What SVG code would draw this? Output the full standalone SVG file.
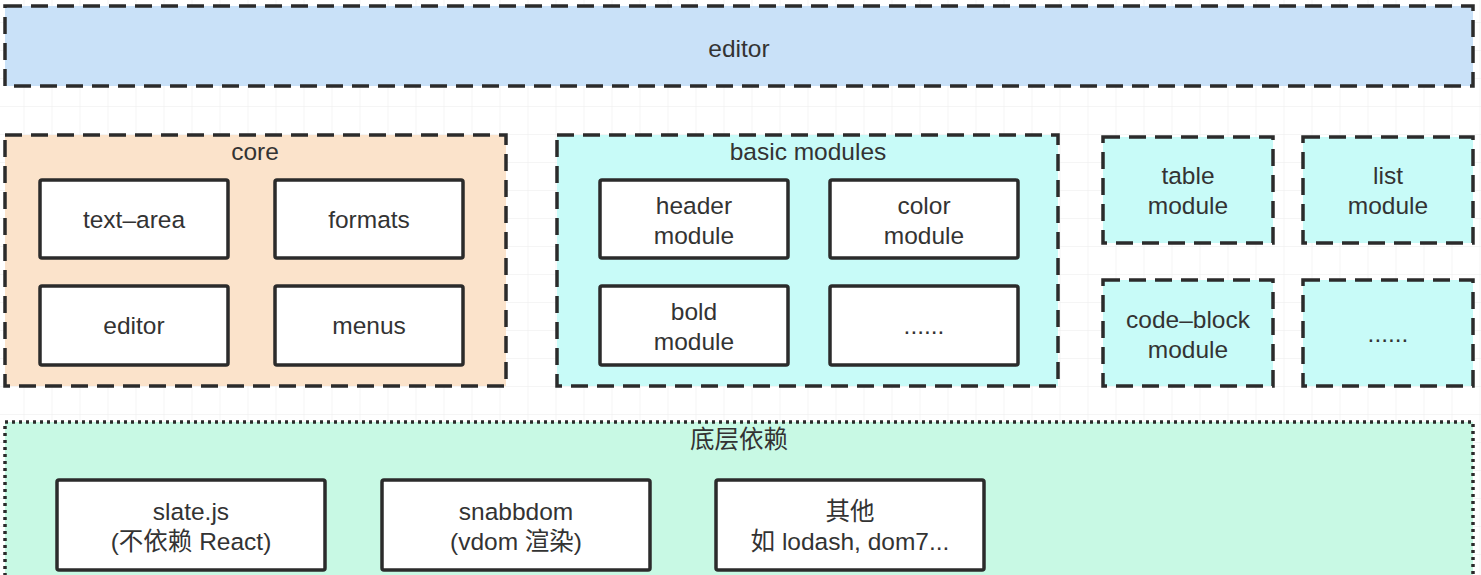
<svg xmlns="http://www.w3.org/2000/svg" width="1481" height="575" viewBox="0 0 1481 575">
<defs>
<pattern id="grid" x="23.5" y="22" width="28" height="28" patternUnits="userSpaceOnUse">
<path d="M0 0H28M0 0V28" fill="none" stroke="#ececec" stroke-width="1"/>
</pattern>
</defs>
<style>
text{font-family:"Liberation Sans","Noto Sans CJK SC",sans-serif;font-size:24.5px;fill:#333;text-anchor:middle}
.dash{stroke:#2b2b2b;stroke-width:3.5;stroke-dasharray:17 9}
.dot{stroke:#2b2b2b;stroke-width:3.5;stroke-dasharray:3 4}
.box{fill:#fff;stroke:#2b2b2b;stroke-width:3.5}
</style>
<rect width="1481" height="575" fill="#fff"/>
<rect width="1481" height="575" fill="url(#grid)"/>
<g id="editor">
<rect class="dash" x="5" y="6" width="1468" height="80" fill="#c9e1f8"/>
<text x="739" y="57">editor</text>
</g>
<g id="core">
<rect class="dash" x="5" y="135" width="501" height="251" fill="#fbe3cb"/>
<text x="255" y="160">core</text>
</g>
<g id="text-area"><rect class="box" x="40" y="180" width="188" height="78" rx="2"/><text x="134" y="228">text–area</text></g>
<g id="formats"><rect class="box" x="275" y="180" width="188" height="78" rx="2"/><text x="369" y="228">formats</text></g>
<g id="editor-core"><rect class="box" x="40" y="286" width="188" height="79" rx="2"/><text x="134" y="334">editor</text></g>
<g id="menus"><rect class="box" x="275" y="286" width="188" height="79" rx="2"/><text x="369" y="334">menus</text></g>
<g id="basic-modules">
<rect class="dash" x="557" y="135" width="501" height="251" fill="#c8fbf8"/>
<text x="808" y="160">basic modules</text>
</g>
<g id="header"><rect class="box" x="600" y="180" width="188" height="78" rx="2"/><text x="694" y="214">header</text><text x="694" y="244">module</text></g>
<g id="color"><rect class="box" x="830" y="180" width="188" height="78" rx="2"/><text x="924" y="214">color</text><text x="924" y="244">module</text></g>
<g id="bold"><rect class="box" x="600" y="286" width="188" height="79" rx="2"/><text x="694" y="320">bold</text><text x="694" y="350">module</text></g>
<g id="more-basic"><rect class="box" x="830" y="286" width="188" height="79" rx="2"/><text x="924" y="334">......</text></g>
<g id="table"><rect class="dash" x="1103" y="137" width="170" height="106" fill="#c8fbf8"/><text x="1188" y="184">table</text><text x="1188" y="214">module</text></g>
<g id="list"><rect class="dash" x="1303" y="137" width="170" height="106" fill="#c8fbf8"/><text x="1388" y="184">list</text><text x="1388" y="214">module</text></g>
<g id="code-block"><rect class="dash" x="1103" y="280" width="170" height="106" fill="#c8fbf8"/><text x="1188" y="328">code–block</text><text x="1188" y="358">module</text></g>
<g id="more-modules"><rect class="dash" x="1303" y="280" width="170" height="106" fill="#c8fbf8"/><text x="1388" y="342">......</text></g>
<g id="deps">
<rect class="dot" x="5" y="422" width="1468" height="170" fill="#c8f9e4"/>
<text x="739" y="448">底层依赖</text>
</g>
<g id="slate"><rect class="box" x="57" y="480" width="268" height="90" rx="2"/><text x="191" y="520">slate.js</text><text x="191" y="550">(不依赖 React)</text></g>
<g id="snabbdom"><rect class="box" x="382" y="480" width="268" height="90" rx="2"/><text x="516" y="520">snabbdom</text><text x="516" y="550">(vdom 渲染)</text></g>
<g id="others"><rect class="box" x="716" y="480" width="268" height="90" rx="2"/><text x="850" y="520">其他</text><text x="850" y="550">如 lodash, dom7...</text></g>
<g id="connectors"/>
</svg>
